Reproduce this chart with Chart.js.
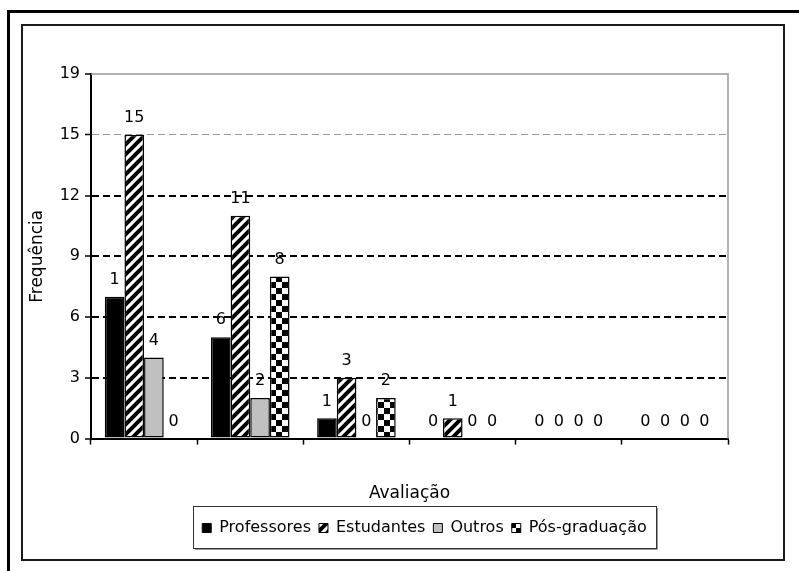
<!DOCTYPE html>
<html lang="pt">
<head>
<meta charset="utf-8">
<title>Avaliação</title>
<script src="https://cdn.jsdelivr.net/npm/chart.js@4"></script>
<style>
  html, body { margin: 0; padding: 0; background: #fff; }
  #wrap { width: 799px; height: 571px; }
</style>
</head>
<body>
<div id="wrap"><canvas id="grafico" width="799" height="571"></canvas></div>
<script>
/* ── dados ── */
const categorias   = ['', '', '', '', '', ''];
const professores  = [7, 5, 1, 0, 0, 0];
const estudantes   = [15, 11, 3, 1, 0, 0];
const outros       = [4, 2, 0, 0, 0, 0];
const posGraduacao = [0, 8, 2, 0, 0, 0];

/* rótulos impressos sobre as barras (como aparecem no original) */
const rotProfessores  = ['1', '6', '1', '0', '0', '0'];
const rotEstudantes   = ['15', '11', '3', '1', '0', '0'];
const rotOutros       = ['4', '2', '0', '0', '0', '0'];
const rotPosGraduacao = ['0', '8', '2', '0', '0', '0'];

const yTicks      = [0, 3, 6, 9, 12, 15, 18];
const yTickLabels = ['0', '3', '6', '9', '12', '15', '19'];

const FONTE = '"DejaVu Sans", Verdana, sans-serif';
Chart.defaults.font.family = FONTE;
Chart.defaults.font.size   = 16;
Chart.defaults.color       = '#000';

const canvas = document.getElementById('grafico');
const ctx    = canvas.getContext('2d');

/* ─── padrões de preenchimento ─────────────────────────── */
function padraoListras() {
  const c = document.createElement('canvas');
  c.width = 10; c.height = 10;
  const g = c.getContext('2d');
  g.fillStyle = '#fff';
  g.fillRect(0, 0, 10, 10);
  g.strokeStyle = '#000';
  g.lineWidth   = 4;
  g.beginPath();
  g.moveTo(-2, 12); g.lineTo(12, -2);
  g.moveTo(-2, 2);  g.lineTo(2, -2);
  g.moveTo(8, 12);  g.lineTo(12, 8);
  g.stroke();
  return ctx.createPattern(c, 'repeat');
}

function padraoXadrez() {
  const c = document.createElement('canvas');
  c.width = 12; c.height = 12;
  const g = c.getContext('2d');
  g.fillStyle = '#fff';
  g.fillRect(0, 0, 12, 12);
  g.fillStyle = '#000';
  g.fillRect(0, 0, 6, 6);
  g.fillRect(6, 6, 6, 6);
  return ctx.createPattern(c, 'repeat');
}

/* ─── molduras, caixa da legenda, borda cinza da área ─── */
const molduras = {
  id: 'molduras',
  beforeDraw(chart) {
    const c = chart.ctx;
    c.save();
    c.fillStyle = '#fff';
    c.fillRect(0, 0, chart.width, chart.height);
    // moldura externa (só topo e esquerda visíveis)
    c.strokeStyle = '#000';
    c.lineWidth   = 3;
    c.beginPath();
    c.moveTo(8.5, chart.height); c.lineTo(8.5, 11.5); c.lineTo(chart.width, 11.5);
    c.stroke();
    // moldura interna
    c.lineWidth   = 2;
    c.strokeStyle = '#1a1a1a';
    c.strokeRect(22, 25, 762, 535);
    // caixa da legenda
    c.lineWidth   = 1;
    c.strokeStyle = '#999';
    c.beginPath();
    c.moveTo(195, 549.5); c.lineTo(657.5, 549.5); c.lineTo(657.5, 508);
    c.stroke();
    c.strokeStyle = '#333';
    c.strokeRect(193.5, 506.5, 463, 42);
    c.restore();
  },
  beforeDatasetsDraw(chart) {
    const {ctx: c, chartArea: a} = chart;
    c.save();
    c.strokeStyle = '#999';
    c.lineWidth   = 1.5;
    c.beginPath();
    c.moveTo(a.left, a.top); c.lineTo(a.right, a.top); c.lineTo(a.right, a.bottom);
    c.stroke();
    c.restore();
  },
  afterLayout(chart) {
    // centraliza a legenda dentro da caixa desenhada
    const lg = chart.legend;
    lg.left   = 193 - 40;
    lg.right  = 656 + 40;
    lg.top    = 512;
    lg.bottom = 546;
  },
};

/* ─── rótulos de valor sobre as barras ─────────────────── */
const rotulos = {
  id: 'rotulos',
  afterDatasetsDraw(chart) {
    const c = chart.ctx;
    c.save();
    c.font         = '16px ' + FONTE;
    c.fillStyle    = '#000';
    c.textAlign    = 'center';
    c.textBaseline = 'middle';
    chart.data.datasets.forEach((ds, i) => {
      chart.getDatasetMeta(i).data.forEach((bar, j) => {
        c.fillText(ds.rotulos[j], bar.x, bar.y - 17);
      });
    });
    c.restore();
  },
};

const semBordaNoZero = cx => (cx.raw === 0 ? 0 : 1.5);

new Chart(canvas, {
  type: 'bar',
  data: {
    labels: categorias,
    datasets: [
      { label: 'Professores',   data: professores,  rotulos: rotProfessores,  backgroundColor: '#000' },
      { label: 'Estudantes',    data: estudantes,   rotulos: rotEstudantes,   backgroundColor: padraoListras() },
      { label: 'Outros',        data: outros,       rotulos: rotOutros,       backgroundColor: '#c0c0c0' },
      { label: 'Pós-graduação', data: posGraduacao, rotulos: rotPosGraduacao, backgroundColor: padraoXadrez() },
    ].map(ds => ({
      ...ds,
      borderColor       : '#000',
      borderWidth       : semBordaNoZero,
      borderSkipped     : false,
      categoryPercentage: 0.74,
      barPercentage     : 1,
    })),
  },
  options: {
    responsive: false,
    animation : false,
    layout: { padding: { left: 21, top: 74, right: 71, bottom: 33 } },
    plugins: {
      tooltip: { enabled: false },
      legend: {
        position: 'bottom',
        labels  : {
          boxWidth : 9,
          boxHeight: 9,
          padding  : 8,
          color    : '#000',
          font     : { size: 16, family: FONTE },
          generateLabels: chart => chart.data.datasets.map((ds, i) => ({
            text       : ds.label,
            fillStyle  : ds.backgroundColor,
            strokeStyle: '#000',
            lineWidth  : 1,
            hidden     : false,
            datasetIndex: i,
          })),
        },
      },
    },
    scales: {
      x: {
        ticks : { display: false },
        grid  : { drawOnChartArea: false, drawTicks: true, tickLength: 6, tickColor: '#000', tickWidth: 1.5 },
        border: { color: '#000', width: 2 },
        title : { display: true, text: 'Avaliação', color: '#000', font: { size: 17 }, padding: { top: 39, bottom: 0 } },
      },
      y: {
        min: 0,
        max: 18,
        afterFit: s => { s.width = 70; },
        afterBuildTicks: s => { s.ticks = yTicks.map(v => ({ value: v })); },
        ticks: {
          padding : 5,
          color   : '#000',
          font    : { size: 16 },
          callback: v => yTickLabels[yTicks.indexOf(v)],
        },
        grid: {
          color: cx => {
            const v = cx.tick && cx.tick.value;
            if (v === 0 || v === 18) return 'rgba(0,0,0,0)';
            return v === 15 ? '#999' : '#000';
          },
          lineWidth : cx => (cx.tick && cx.tick.value === 15 ? 1 : 2),
          tickColor : '#000',
          tickWidth : 1.5,
          tickLength: 6,
        },
        border: { color: '#000', width: 2, dash: [7, 4] },
        title : { display: true, text: 'Frequência', color: '#000', font: { size: 17 }, padding: { top: 6, bottom: 0 } },
      },
    },
  },
  plugins: [molduras, rotulos],
});
</script>
</body>
</html>
